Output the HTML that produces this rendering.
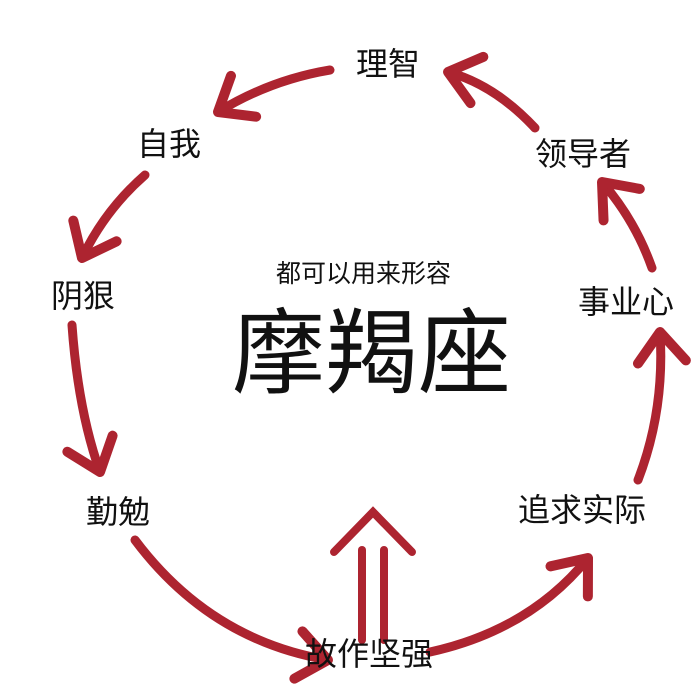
<!DOCTYPE html>
<html><head><meta charset="utf-8"><style>
body{margin:0;background:#fff;width:700px;height:700px;overflow:hidden;position:relative;font-family:"Liberation Sans","Noto Sans CJK SC",sans-serif;}
.t{position:absolute;color:#111;white-space:nowrap;font-size:32px;line-height:1}
</style></head><body>
<svg width="700" height="700" style="position:absolute;left:0;top:0">
<defs>
<marker id="a" markerUnits="userSpaceOnUse" markerWidth="80" markerHeight="80" refX="0" refY="0" viewBox="-40 -40 80 80" orient="auto" overflow="visible">
<path d="M-30,-24 L0,0 L-30,24" fill="none" stroke="#ad2430" stroke-width="10" stroke-linecap="round" stroke-linejoin="round"/>
</marker>
</defs>
<g fill="none" stroke="#ad2430" stroke-width="9" stroke-linecap="round" marker-end="url(#a)">
<path d="M330,70 Q270,80 218,112"/>
<path d="M535,128 Q495,85 448,72"/>
<path d="M145,175 Q105,210 82,258"/>
<path d="M72,325 Q78,410 100,472"/>
<path d="M135,540 Q210,640 328,660"/>
<path d="M430,652 Q530,630 588,558"/>
<path d="M638,480 Q665,410 660,332"/>
<path d="M652,268 Q635,220 602,182"/>
</g>
<g fill="none" stroke="#ad2430" stroke-width="8" stroke-linecap="round">
<path d="M334,552 L373,512 L412,552"/>
<path d="M362,550 L362,640"/>
<path d="M384,550 L384,640"/>
</g>
</svg>
<div class="t" style="left:356px;top:48px">理智</div>
<div class="t" style="left:137px;top:128px">自我</div>
<div class="t" style="left:535px;top:138px">领导者</div>
<div class="t" style="left:51px;top:280px">阴狠</div>
<div class="t" style="left:578px;top:286px">事业心</div>
<div class="t" style="left:276px;top:262px;font-size:25px">都可以用来形容</div>
<div class="t" style="left:232px;top:308px;font-size:93px">摩羯座</div>
<div class="t" style="left:86px;top:496px">勤勉</div>
<div class="t" style="left:518px;top:494px">追求实际</div>
<div class="t" style="left:305px;top:638px">故作坚强</div>
</body></html>
